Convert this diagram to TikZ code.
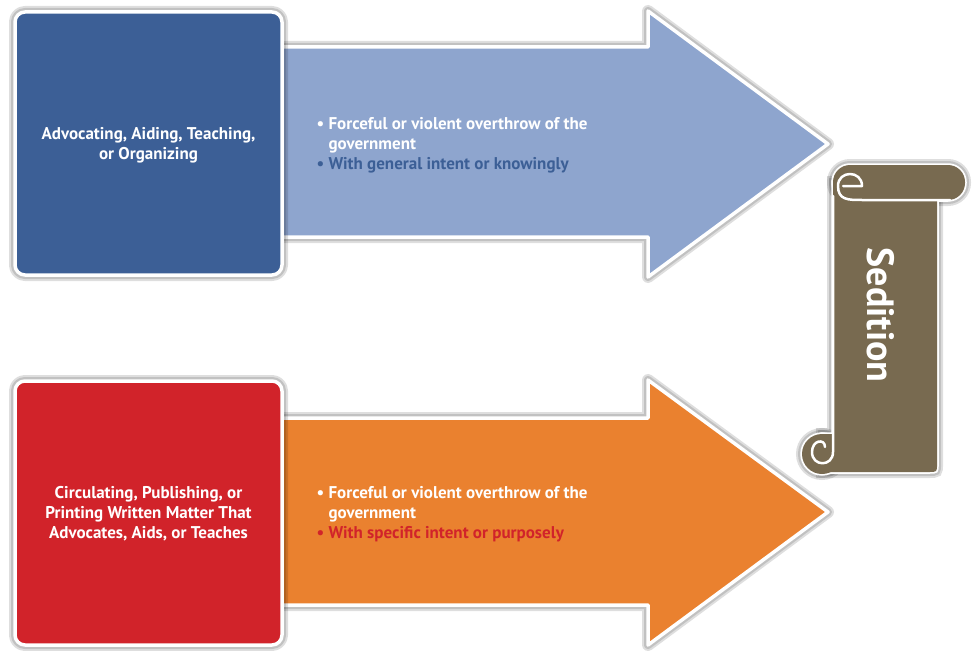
\documentclass[tikz,border=0pt]{standalone}
\usepackage{fontspec}
\setmainfont{PT Sans}
\definecolor{boxblue}{HTML}{3C5F96}
\definecolor{arrblue}{HTML}{8EA5CE}
\definecolor{boxred}{HTML}{D1232A}
\definecolor{arrorange}{HTML}{EA812F}
\definecolor{scrollc}{HTML}{786A50}
\tikzset{
  shp/.style={draw=white, line width=3.5pt, line join=round,
    preaction={draw=black, opacity=.13, line width=12pt, line join=round},
    preaction={draw=black, opacity=.13, line width=8pt, line join=round}},
  boxtext/.style={text=white, font=\bfseries\fontsize{17}{20}\selectfont, align=center},
  bultext/.style={text=white, font=\bfseries\fontsize{17}{20}\selectfont, align=left, anchor=west},
  glowa/.style={draw=black, opacity=.13, line width=12pt},
  glowb/.style={draw=black, opacity=.13, line width=8pt},
  passa/.style={draw=white, line width=3.5pt},
  passb/.style={fill=scrollc},
  curl/.style={white, line width=2.5pt, line cap=round, line join=round},
}
\begin{document}
\begin{tikzpicture}[x=1pt,y=-1pt]
\useasboundingbox (0,0) rectangle (976,650);
% top arrow
\draw[shp, fill=arrblue] (270,47) -- (648,47) -- (648,11) -- (828,144) -- (648,277) -- (648,237) -- (270,237) -- cycle;
% bottom arrow
\draw[shp, fill=arrorange] (270,418) -- (648,418) -- (648,380) -- (828,512) -- (648,645) -- (648,605) -- (270,605) -- cycle;
% boxes
\draw[shp, fill=boxblue, rounded corners=10pt] (15,12) rectangle (282,275);
\draw[shp, fill=boxred, rounded corners=10pt] (15,381) rectangle (282,645);
\node[boxtext] (t1) at (148.5,145) {Advocating, Aiding, Teaching,\\or Organizing};
\node[boxtext] (t2) at (148.5,514) {Circulating, Publishing, or\\Printing Written Matter That\\Advocates, Aids, or Teaches};
\node[bultext] (b1) at (313,145) {• Forceful or violent overthrow of the\\\phantom{• }government\\\textcolor{boxblue}{• With general intent or knowingly}};
\node[bultext] (b2) at (313,514) {• Forceful or violent overthrow of the\\\phantom{• }government\\\textcolor{boxred}{• With specific intent or purposely}};
% scroll
\foreach \p in {glowa,glowb,passa,passb}{
  \path[\p, rounded corners=17pt] (833,165) rectangle (965,200);
  \path[\p] (833,182) -- (937,182) -- (937,464) .. controls (937,472) .. (929,472) -- (822,472) -- (822,434) -- (833,434) -- cycle;
  \path[\p] (822,454) circle (20);
}
% curls
\draw[curl] (843,186) -- (862,186) .. controls (862,170) and (838,170) .. (838,186) .. controls (838,200) and (848,200) .. (862,200) -- (950,200);
\draw[curl] (833,196) -- (833,452) .. controls (833,467) and (812,467) .. (812,452) .. controls (812,440) and (825,438) .. (825,447);
\node[text=white, font=\bfseries\fontsize{38}{40}\selectfont, rotate=-90] (sed) at (881,315) {Sedition};
\end{tikzpicture}
\end{document}
